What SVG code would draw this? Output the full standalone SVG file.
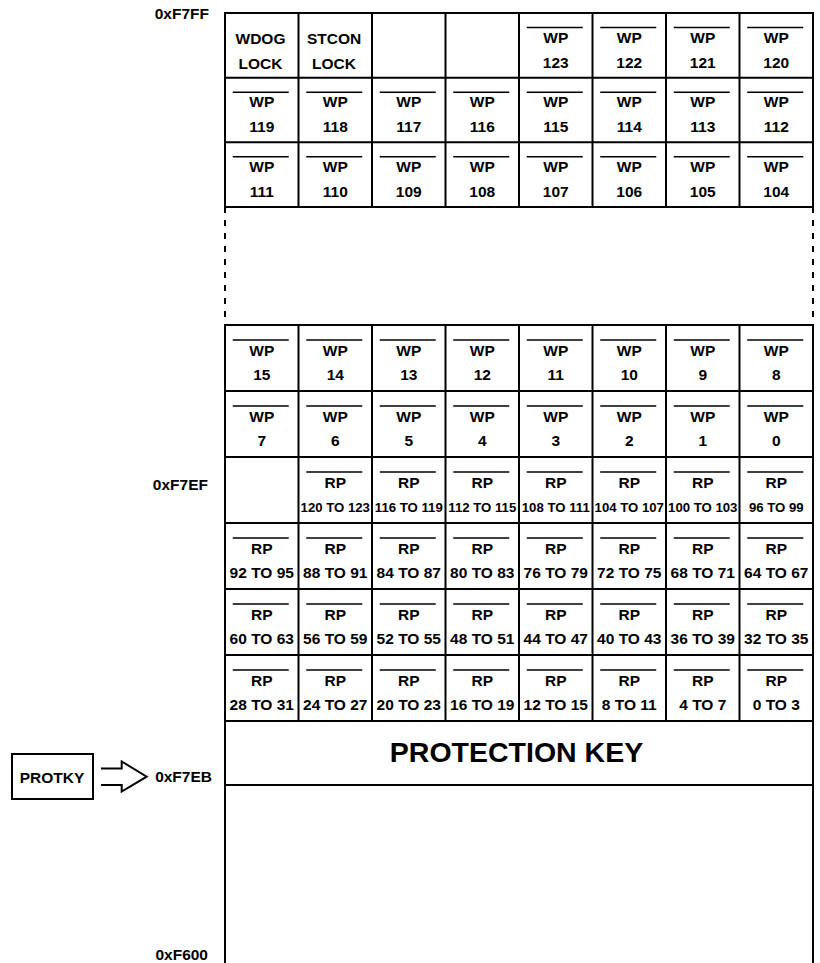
<svg xmlns="http://www.w3.org/2000/svg" width="820" height="963" viewBox="0 0 820 963">
<style>
.g{stroke:#000;stroke-width:2;fill:none}
.d{stroke:#000;stroke-width:2;fill:none;stroke-dasharray:6,7}
.ol{stroke:#000;stroke-width:1.6}
text{font-family:"Liberation Sans",Arial,sans-serif;font-weight:bold;fill:#000}
.t{font-size:15.5px;text-anchor:middle}
.s{font-size:13.2px;text-anchor:middle}
.a{font-size:15.5px;text-anchor:end}
.k{font-size:28.5px;text-anchor:middle}
</style>
<defs>
<line id="o" class="ol" x1="-29" y1="0" x2="27" y2="0"/>
</defs>
<g id="connectors">
<path class="g" d="M225,12 V207 M298.5,12 V207 M372,12 V207 M445.5,12 V207 M519,12 V207 M592.5,12 V207 M666,12 V207 M739.5,12 V207 M813,12 V207"/>
<path class="g" d="M224,13 H814 M224,77.7 H814 M224,142.3 H814 M224,207 H814"/>
<path class="d" d="M225,207 V325 M813,207 V325"/>
<path class="g" d="M225,325 V963 M813,325 V963 M298.5,325 V721 M372,325 V721 M445.5,325 V721 M519,325 V721 M592.5,325 V721 M666,325 V721 M739.5,325 V721"/>
<path class="g" d="M224,325 H814 M224,391 H814 M224,457 H814 M224,523 H814 M224,589 H814 M224,655 H814 M224,721 H814 M224,785 H814"/>
<path id="arrow" class="g" d="M101,768.5 H121.7 V761.5 L146.7,776.7 L121.7,791.5 V785 H101"/>
</g>
<g id="addr">
<text class="a" x="209" y="19">0xF7FF</text>
<text class="a" x="208" y="490">0xF7EF</text>
<text class="a" x="212" y="782">0xF7EB</text>
<text class="a" x="208" y="960">0xF600</text>
</g>
<g id="protky"><rect class="g" x="12" y="754" width="81" height="45"/><text class="t" x="52" y="783">PROTKY</text></g>
<g id="protection-key"><text class="k" x="516.5" y="762">PROTECTION KEY</text></g>
<g id="wdog"><text class="t" x="260.5" y="44">WDOG</text><text class="t" x="260.5" y="69">LOCK</text></g>
<g id="stcon"><text class="t" x="334" y="44">STCON</text><text class="t" x="334" y="69">LOCK</text></g>
<g id="wp123" transform="translate(555.75,13)"><use href="#o" y="14.5"/><text class="t" y="29.5">WP</text><text class="t" y="54.5">123</text></g>
<g id="wp122" transform="translate(629.25,13)"><use href="#o" y="14.5"/><text class="t" y="29.5">WP</text><text class="t" y="54.5">122</text></g>
<g id="wp121" transform="translate(702.75,13)"><use href="#o" y="14.5"/><text class="t" y="29.5">WP</text><text class="t" y="54.5">121</text></g>
<g id="wp120" transform="translate(776.25,13)"><use href="#o" y="14.5"/><text class="t" y="29.5">WP</text><text class="t" y="54.5">120</text></g>
<g id="wp119" transform="translate(261.75,77.7)"><use href="#o" y="14.5"/><text class="t" y="29.5">WP</text><text class="t" y="54.5">119</text></g>
<g id="wp118" transform="translate(335.25,77.7)"><use href="#o" y="14.5"/><text class="t" y="29.5">WP</text><text class="t" y="54.5">118</text></g>
<g id="wp117" transform="translate(408.75,77.7)"><use href="#o" y="14.5"/><text class="t" y="29.5">WP</text><text class="t" y="54.5">117</text></g>
<g id="wp116" transform="translate(482.25,77.7)"><use href="#o" y="14.5"/><text class="t" y="29.5">WP</text><text class="t" y="54.5">116</text></g>
<g id="wp115" transform="translate(555.75,77.7)"><use href="#o" y="14.5"/><text class="t" y="29.5">WP</text><text class="t" y="54.5">115</text></g>
<g id="wp114" transform="translate(629.25,77.7)"><use href="#o" y="14.5"/><text class="t" y="29.5">WP</text><text class="t" y="54.5">114</text></g>
<g id="wp113" transform="translate(702.75,77.7)"><use href="#o" y="14.5"/><text class="t" y="29.5">WP</text><text class="t" y="54.5">113</text></g>
<g id="wp112" transform="translate(776.25,77.7)"><use href="#o" y="14.5"/><text class="t" y="29.5">WP</text><text class="t" y="54.5">112</text></g>
<g id="wp111" transform="translate(261.75,142.3)"><use href="#o" y="14.5"/><text class="t" y="29.5">WP</text><text class="t" y="54.5">111</text></g>
<g id="wp110" transform="translate(335.25,142.3)"><use href="#o" y="14.5"/><text class="t" y="29.5">WP</text><text class="t" y="54.5">110</text></g>
<g id="wp109" transform="translate(408.75,142.3)"><use href="#o" y="14.5"/><text class="t" y="29.5">WP</text><text class="t" y="54.5">109</text></g>
<g id="wp108" transform="translate(482.25,142.3)"><use href="#o" y="14.5"/><text class="t" y="29.5">WP</text><text class="t" y="54.5">108</text></g>
<g id="wp107" transform="translate(555.75,142.3)"><use href="#o" y="14.5"/><text class="t" y="29.5">WP</text><text class="t" y="54.5">107</text></g>
<g id="wp106" transform="translate(629.25,142.3)"><use href="#o" y="14.5"/><text class="t" y="29.5">WP</text><text class="t" y="54.5">106</text></g>
<g id="wp105" transform="translate(702.75,142.3)"><use href="#o" y="14.5"/><text class="t" y="29.5">WP</text><text class="t" y="54.5">105</text></g>
<g id="wp104" transform="translate(776.25,142.3)"><use href="#o" y="14.5"/><text class="t" y="29.5">WP</text><text class="t" y="54.5">104</text></g>
<g id="wp15" transform="translate(261.75,325)"><use href="#o" y="15"/><text class="t" y="30.5">WP</text><text class="t" y="55">15</text></g>
<g id="wp14" transform="translate(335.25,325)"><use href="#o" y="15"/><text class="t" y="30.5">WP</text><text class="t" y="55">14</text></g>
<g id="wp13" transform="translate(408.75,325)"><use href="#o" y="15"/><text class="t" y="30.5">WP</text><text class="t" y="55">13</text></g>
<g id="wp12" transform="translate(482.25,325)"><use href="#o" y="15"/><text class="t" y="30.5">WP</text><text class="t" y="55">12</text></g>
<g id="wp11" transform="translate(555.75,325)"><use href="#o" y="15"/><text class="t" y="30.5">WP</text><text class="t" y="55">11</text></g>
<g id="wp10" transform="translate(629.25,325)"><use href="#o" y="15"/><text class="t" y="30.5">WP</text><text class="t" y="55">10</text></g>
<g id="wp9" transform="translate(702.75,325)"><use href="#o" y="15"/><text class="t" y="30.5">WP</text><text class="t" y="55">9</text></g>
<g id="wp8" transform="translate(776.25,325)"><use href="#o" y="15"/><text class="t" y="30.5">WP</text><text class="t" y="55">8</text></g>
<g id="wp7" transform="translate(261.75,391)"><use href="#o" y="15"/><text class="t" y="30.5">WP</text><text class="t" y="55">7</text></g>
<g id="wp6" transform="translate(335.25,391)"><use href="#o" y="15"/><text class="t" y="30.5">WP</text><text class="t" y="55">6</text></g>
<g id="wp5" transform="translate(408.75,391)"><use href="#o" y="15"/><text class="t" y="30.5">WP</text><text class="t" y="55">5</text></g>
<g id="wp4" transform="translate(482.25,391)"><use href="#o" y="15"/><text class="t" y="30.5">WP</text><text class="t" y="55">4</text></g>
<g id="wp3" transform="translate(555.75,391)"><use href="#o" y="15"/><text class="t" y="30.5">WP</text><text class="t" y="55">3</text></g>
<g id="wp2" transform="translate(629.25,391)"><use href="#o" y="15"/><text class="t" y="30.5">WP</text><text class="t" y="55">2</text></g>
<g id="wp1" transform="translate(702.75,391)"><use href="#o" y="15"/><text class="t" y="30.5">WP</text><text class="t" y="55">1</text></g>
<g id="wp0" transform="translate(776.25,391)"><use href="#o" y="15"/><text class="t" y="30.5">WP</text><text class="t" y="55">0</text></g>
<g id="rp120" transform="translate(335.25,457)"><use href="#o" y="15"/><text class="t" y="30.5">RP</text><text class="s" y="55">120 TO 123</text></g>
<g id="rp116" transform="translate(408.75,457)"><use href="#o" y="15"/><text class="t" y="30.5">RP</text><text class="s" y="55">116 TO 119</text></g>
<g id="rp112" transform="translate(482.25,457)"><use href="#o" y="15"/><text class="t" y="30.5">RP</text><text class="s" y="55">112 TO 115</text></g>
<g id="rp108" transform="translate(555.75,457)"><use href="#o" y="15"/><text class="t" y="30.5">RP</text><text class="s" y="55">108 TO 111</text></g>
<g id="rp104" transform="translate(629.25,457)"><use href="#o" y="15"/><text class="t" y="30.5">RP</text><text class="s" y="55">104 TO 107</text></g>
<g id="rp100" transform="translate(702.75,457)"><use href="#o" y="15"/><text class="t" y="30.5">RP</text><text class="s" y="55">100 TO 103</text></g>
<g id="rp96" transform="translate(776.25,457)"><use href="#o" y="15"/><text class="t" y="30.5">RP</text><text class="s" y="55">96 TO 99</text></g>
<g id="rp92" transform="translate(261.75,523)"><use href="#o" y="15"/><text class="t" y="30.5">RP</text><text class="t" y="55">92 TO 95</text></g>
<g id="rp88" transform="translate(335.25,523)"><use href="#o" y="15"/><text class="t" y="30.5">RP</text><text class="t" y="55">88 TO 91</text></g>
<g id="rp84" transform="translate(408.75,523)"><use href="#o" y="15"/><text class="t" y="30.5">RP</text><text class="t" y="55">84 TO 87</text></g>
<g id="rp80" transform="translate(482.25,523)"><use href="#o" y="15"/><text class="t" y="30.5">RP</text><text class="t" y="55">80 TO 83</text></g>
<g id="rp76" transform="translate(555.75,523)"><use href="#o" y="15"/><text class="t" y="30.5">RP</text><text class="t" y="55">76 TO 79</text></g>
<g id="rp72" transform="translate(629.25,523)"><use href="#o" y="15"/><text class="t" y="30.5">RP</text><text class="t" y="55">72 TO 75</text></g>
<g id="rp68" transform="translate(702.75,523)"><use href="#o" y="15"/><text class="t" y="30.5">RP</text><text class="t" y="55">68 TO 71</text></g>
<g id="rp64" transform="translate(776.25,523)"><use href="#o" y="15"/><text class="t" y="30.5">RP</text><text class="t" y="55">64 TO 67</text></g>
<g id="rp60" transform="translate(261.75,589)"><use href="#o" y="15"/><text class="t" y="30.5">RP</text><text class="t" y="55">60 TO 63</text></g>
<g id="rp56" transform="translate(335.25,589)"><use href="#o" y="15"/><text class="t" y="30.5">RP</text><text class="t" y="55">56 TO 59</text></g>
<g id="rp52" transform="translate(408.75,589)"><use href="#o" y="15"/><text class="t" y="30.5">RP</text><text class="t" y="55">52 TO 55</text></g>
<g id="rp48" transform="translate(482.25,589)"><use href="#o" y="15"/><text class="t" y="30.5">RP</text><text class="t" y="55">48 TO 51</text></g>
<g id="rp44" transform="translate(555.75,589)"><use href="#o" y="15"/><text class="t" y="30.5">RP</text><text class="t" y="55">44 TO 47</text></g>
<g id="rp40" transform="translate(629.25,589)"><use href="#o" y="15"/><text class="t" y="30.5">RP</text><text class="t" y="55">40 TO 43</text></g>
<g id="rp36" transform="translate(702.75,589)"><use href="#o" y="15"/><text class="t" y="30.5">RP</text><text class="t" y="55">36 TO 39</text></g>
<g id="rp32" transform="translate(776.25,589)"><use href="#o" y="15"/><text class="t" y="30.5">RP</text><text class="t" y="55">32 TO 35</text></g>
<g id="rp28" transform="translate(261.75,655)"><use href="#o" y="15"/><text class="t" y="30.5">RP</text><text class="t" y="55">28 TO 31</text></g>
<g id="rp24" transform="translate(335.25,655)"><use href="#o" y="15"/><text class="t" y="30.5">RP</text><text class="t" y="55">24 TO 27</text></g>
<g id="rp20" transform="translate(408.75,655)"><use href="#o" y="15"/><text class="t" y="30.5">RP</text><text class="t" y="55">20 TO 23</text></g>
<g id="rp16" transform="translate(482.25,655)"><use href="#o" y="15"/><text class="t" y="30.5">RP</text><text class="t" y="55">16 TO 19</text></g>
<g id="rp12" transform="translate(555.75,655)"><use href="#o" y="15"/><text class="t" y="30.5">RP</text><text class="t" y="55">12 TO 15</text></g>
<g id="rp8" transform="translate(629.25,655)"><use href="#o" y="15"/><text class="t" y="30.5">RP</text><text class="t" y="55">8 TO 11</text></g>
<g id="rp4" transform="translate(702.75,655)"><use href="#o" y="15"/><text class="t" y="30.5">RP</text><text class="t" y="55">4 TO 7</text></g>
<g id="rp0" transform="translate(776.25,655)"><use href="#o" y="15"/><text class="t" y="30.5">RP</text><text class="t" y="55">0 TO 3</text></g>
</svg>
